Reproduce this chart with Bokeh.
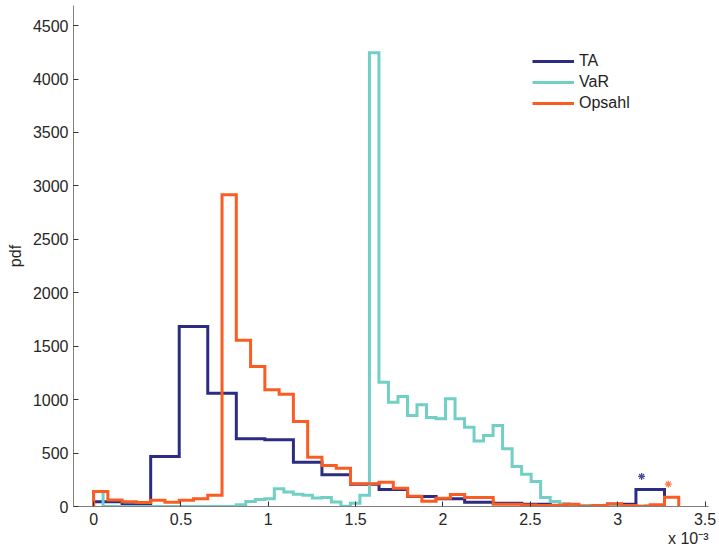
import numpy as np
from bokeh.plotting import figure
from bokeh.models import Legend, LegendItem, Title, FixedTicker, Range1d
from bokeh.embed import file_html
from bokeh.resources import INLINE

# ---- data (x in units of 1e-3) ----
TA_BIN_WIDTH = 0.1634
TA_PDF = [44, 16, 468, 1684, 1060, 633, 624, 414, 296, 209,
          160, 94, 72, 40, 31, 20, 10, 8, 22, 158]

VAR_BIN_WIDTH = 0.05445
VAR_PDF = [140, 0, 0, 0, 0, 0, 0, 0, 0, 0,
           0, 0, 0, 0, 0, 16, 47, 65, 72, 165,
           135, 115, 105, 80, 85, 42, 3, 30, 105, 4247,
           1163, 976, 1029, 851, 951, 833, 820, 1008, 820, 742,
           612, 664, 758, 540, 374, 302, 234, 84, 47, 25,
           15, 10, 8, 5, 5, 3, 5, 3, 8, 3]

OPS_BIN_WIDTH = 0.0817
OPS_PDF = [140, 60, 45, 38, 58, 40, 58, 72, 105, 2918,
           1555, 1310, 1092, 1050, 795, 461, 383, 359, 212, 212,
           227, 171, 95, 48, 78, 112, 85, 85, 22, 22,
           14, 10, 12, 22, 3, 9, 25, 9, 3, 16,
           87]

SERIES = ["TA", "VaR", "Opsahl"]
COLORS = ["#2b2c82", "#72cfc5", "#fa5c22"]

STAR_X = [3.137, 3.29]
STAR_Y = [281, 209]
STAR_COLORS = ["#4a4a9e", "#fb7a4a"]

X_TICKS = [0, 0.5, 1, 1.5, 2, 2.5, 3, 3.5]
X_TICK_LABELS = ["0", "0.5", "1", "1.5", "2", "2.5", "3", "3.5"]
Y_TICKS = [0, 500, 1000, 1500, 2000, 2500, 3000, 3500, 4000, 4500]
X_SCALE_NOTE = "x 10\u207b\u00b3"

FONT = "Liberation Sans"


def outline(width, values):
    vals = np.asarray(values, dtype=float)
    edges = np.arange(len(vals) + 1) * width
    xs = np.repeat(edges, 2)
    ys = np.concatenate([[0.0], np.repeat(vals, 2), [0.0]])
    return xs, ys


p = figure(width=719, height=554, output_backend="svg", toolbar_location=None,
           x_range=Range1d(-0.115, 3.52), y_range=Range1d(0, 4688),
           min_border_left=73, min_border_right=11, min_border_top=5,
           min_border_bottom=48)
p.outline_line_color = None
p.grid.visible = False
p.background_fill_color = "white"

renderers = []
for (w, vals), color in zip([(TA_BIN_WIDTH, TA_PDF), (VAR_BIN_WIDTH, VAR_PDF),
                             (OPS_BIN_WIDTH, OPS_PDF)], COLORS):
    xs, ys = outline(w, vals)
    r = p.line(xs, ys, line_color=color, line_width=3, line_join="miter")
    renderers.append(r)

p.scatter(STAR_X, STAR_Y, marker="asterisk", size=7, line_width=1.2,
          line_color=STAR_COLORS)

legend = Legend(items=[LegendItem(label=s, renderers=[r]) for s, r in zip(SERIES, renderers)],
                location=(459, 393), border_line_color=None, background_fill_alpha=0,
                padding=0, margin=0, spacing=1, glyph_width=42, glyph_height=20,
                label_height=20, label_standoff=5, label_text_font=FONT,
                label_text_font_size="16px", label_text_color="#222222")
p.add_layout(legend)

for ax in (p.xaxis[0], p.yaxis[0]):
    ax.axis_line_color = "#7f7f7f"
    ax.axis_line_width = 1
    ax.major_tick_line_color = "#333333"
    ax.major_tick_in = 5
    ax.major_tick_out = 0
    ax.minor_tick_line_color = None
    ax.major_label_text_font = FONT
    ax.major_label_text_font_size = "16px"
    ax.major_label_text_color = "#262626"

p.xaxis[0].ticker = FixedTicker(ticks=X_TICKS)
p.xaxis[0].major_label_overrides = {t: l for t, l in zip(X_TICKS, X_TICK_LABELS)}
p.xaxis[0].major_label_standoff = 6
p.yaxis[0].ticker = FixedTicker(ticks=Y_TICKS)
p.yaxis[0].major_label_standoff = 5
p.yaxis[0].axis_label = "pdf"
p.yaxis[0].axis_label_text_font = FONT
p.yaxis[0].axis_label_text_font_size = "16px"
p.yaxis[0].axis_label_text_font_style = "normal"
p.yaxis[0].axis_label_text_color = "#262626"
p.yaxis[0].axis_label_standoff = 6

note = Title(text=X_SCALE_NOTE, align="right", text_font=FONT, text_font_size="16px",
             text_font_style="normal", text_color="#262626", standoff=1, offset=0)
p.add_layout(note, "below")

open("out.html", "w").write(file_html(p, INLINE))
